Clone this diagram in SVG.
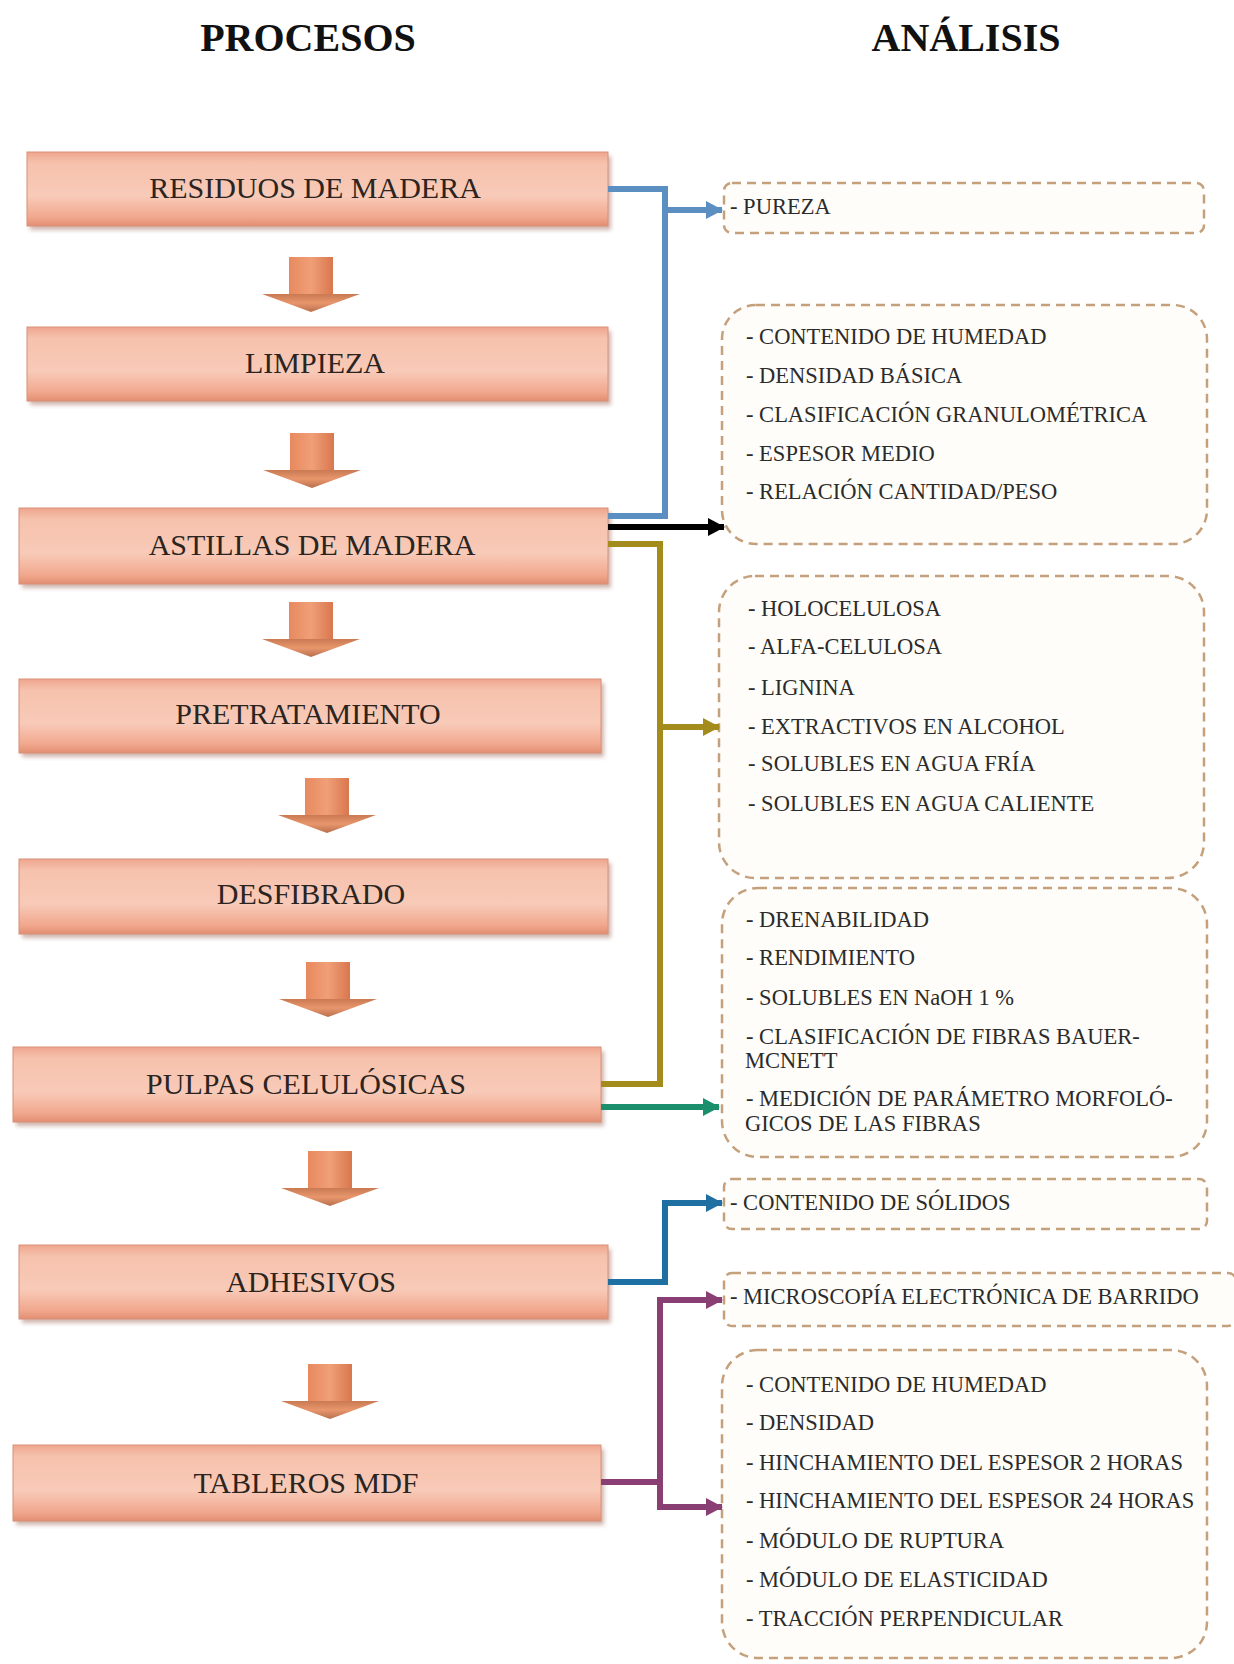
<svg xmlns="http://www.w3.org/2000/svg" width="1234" height="1664" viewBox="0 0 1234 1664">
<style>
.title{font-family:"Liberation Serif","Times New Roman",serif;font-weight:bold;font-size:40px;fill:#111;text-anchor:middle}
.ptxt{font-family:"Liberation Serif","Times New Roman",serif;font-size:30px;fill:#2b2420;text-anchor:middle}
.atxt{font-family:"Liberation Serif","Times New Roman",serif;font-size:22.5px;fill:#2b2b2b}
.pbox{fill:url(#boxg);stroke:#d8907a;stroke-width:1}
.shadow{fill:#a87a6c;opacity:0.55;filter:url(#blur)}
.abox{fill:#fffdf9;stroke:#c4a07c;stroke-width:2.5;stroke-dasharray:9 6}
.conn{fill:none;stroke-width:6;stroke-linejoin:miter}
.shaft{fill:url(#arrg)}
.head{fill:url(#headg)}
</style>
<defs>
<linearGradient id="boxg" x1="0" y1="0" x2="0" y2="1">
<stop offset="0" stop-color="#eea58d"/>
<stop offset="0.15" stop-color="#f6c2ad"/>
<stop offset="0.6" stop-color="#f8cab8"/>
<stop offset="0.88" stop-color="#f1a88e"/>
<stop offset="1" stop-color="#e28e72"/>
</linearGradient>
<linearGradient id="arrg" x1="0" y1="0" x2="1" y2="0">
<stop offset="0" stop-color="#e8895f"/>
<stop offset="0.5" stop-color="#f09f78"/>
<stop offset="1" stop-color="#d9774e"/>
</linearGradient>
<linearGradient id="headg" x1="0" y1="0" x2="0" y2="1">
<stop offset="0" stop-color="#c97a52"/>
<stop offset="0.5" stop-color="#e8966c"/>
<stop offset="1" stop-color="#b8704c"/>
</linearGradient>
<filter id="blur" x="-5%" y="-20%" width="110%" height="140%"><feGaussianBlur stdDeviation="2"/></filter>
<marker id="mBlue" markerUnits="userSpaceOnUse" markerWidth="20" markerHeight="20" refX="16" refY="9" orient="auto"><path d="M0,0 L17,9 L0,18 Z" fill="#5b8ec1"/></marker>
<marker id="mBlack" markerUnits="userSpaceOnUse" markerWidth="20" markerHeight="20" refX="16" refY="9" orient="auto"><path d="M0,0 L17,9 L0,18 Z" fill="#000"/></marker>
<marker id="mOlive" markerUnits="userSpaceOnUse" markerWidth="20" markerHeight="20" refX="16" refY="9" orient="auto"><path d="M0,0 L17,9 L0,18 Z" fill="#a38b1c"/></marker>
<marker id="mGreen" markerUnits="userSpaceOnUse" markerWidth="20" markerHeight="20" refX="16" refY="9" orient="auto"><path d="M0,0 L17,9 L0,18 Z" fill="#1b8f6c"/></marker>
<marker id="mTeal" markerUnits="userSpaceOnUse" markerWidth="20" markerHeight="20" refX="16" refY="9" orient="auto"><path d="M0,0 L17,9 L0,18 Z" fill="#1f70a2"/></marker>
<marker id="mPurple" markerUnits="userSpaceOnUse" markerWidth="20" markerHeight="20" refX="16" refY="9" orient="auto"><path d="M0,0 L17,9 L0,18 Z" fill="#8a3f74"/></marker>
<g id="dArrow"><path class="shaft" d="M-22,0 H22 V38 H-22 Z"/><path class="head" d="M-49,37 H49 L0,55 Z"/></g>
</defs>
<rect width="1234" height="1664" fill="#fff"/>

<text class="title" x="308" y="51">PROCESOS</text>
<text class="title" x="966" y="51">ANÁLISIS</text>

<!-- process nodes -->
<g id="p1"><rect class="shadow" x="30" y="156" width="581" height="74"/><rect class="pbox" x="27" y="152" width="581" height="74"/><text class="ptxt" x="315" y="198">RESIDUOS DE MADERA</text></g>
<g id="p2"><rect class="shadow" x="30" y="331" width="581" height="74"/><rect class="pbox" x="27" y="327" width="581" height="74"/><text class="ptxt" x="315" y="373">LIMPIEZA</text></g>
<g id="p3"><rect class="shadow" x="22" y="512" width="589" height="76"/><rect class="pbox" x="19" y="508" width="589" height="76"/><text class="ptxt" x="312" y="555">ASTILLAS DE MADERA</text></g>
<g id="p4"><rect class="shadow" x="22" y="683" width="582" height="74"/><rect class="pbox" x="19" y="679" width="582" height="74"/><text class="ptxt" x="308" y="724">PRETRATAMIENTO</text></g>
<g id="p5"><rect class="shadow" x="22" y="863" width="589" height="75"/><rect class="pbox" x="19" y="859" width="589" height="75"/><text class="ptxt" x="311" y="904">DESFIBRADO</text></g>
<g id="p6"><rect class="shadow" x="16" y="1051" width="588" height="75"/><rect class="pbox" x="13" y="1047" width="588" height="75"/><text class="ptxt" x="306" y="1094">PULPAS CELULÓSICAS</text></g>
<g id="p7"><rect class="shadow" x="22" y="1249" width="589" height="74"/><rect class="pbox" x="19" y="1245" width="589" height="74"/><text class="ptxt" x="311" y="1292">ADHESIVOS</text></g>
<g id="p8"><rect class="shadow" x="16" y="1449" width="588" height="76"/><rect class="pbox" x="13" y="1445" width="588" height="76"/><text class="ptxt" x="306" y="1493">TABLEROS MDF</text></g>

<!-- down block arrows -->
<g id="flow">
<use href="#dArrow" transform="translate(311,257)"/>
<use href="#dArrow" transform="translate(312,433)"/>
<use href="#dArrow" transform="translate(311,602)"/>
<use href="#dArrow" transform="translate(327,778)"/>
<use href="#dArrow" transform="translate(328,962)"/>
<use href="#dArrow" transform="translate(330,1151)"/>
<use href="#dArrow" transform="translate(330,1364)"/>
</g>

<!-- analysis nodes -->
<g id="a1"><rect class="abox" x="724" y="183" width="480" height="50" rx="8"/><text class="atxt" x="730" y="214">- PUREZA</text></g>
<g id="a2"><rect class="abox" x="722" y="305" width="485" height="239" rx="34"/>
<text class="atxt" x="746" y="344">- CONTENIDO DE HUMEDAD</text>
<text class="atxt" x="746" y="383">- DENSIDAD BÁSICA</text>
<text class="atxt" x="746" y="422">- CLASIFICACIÓN GRANULOMÉTRICA</text>
<text class="atxt" x="746" y="461">- ESPESOR MEDIO</text>
<text class="atxt" x="746" y="499">- RELACIÓN CANTIDAD/PESO</text></g>
<g id="a3"><rect class="abox" x="719" y="576" width="485" height="302" rx="36"/>
<text class="atxt" x="748" y="616">- HOLOCELULOSA</text>
<text class="atxt" x="748" y="654">- ALFA-CELULOSA</text>
<text class="atxt" x="748" y="695">- LIGNINA</text>
<text class="atxt" x="748" y="734">- EXTRACTIVOS EN ALCOHOL</text>
<text class="atxt" x="748" y="771">- SOLUBLES EN AGUA FRÍA</text>
<text class="atxt" x="748" y="811">- SOLUBLES EN AGUA CALIENTE</text></g>
<g id="a4"><rect class="abox" x="722" y="888" width="485" height="269" rx="36"/>
<text class="atxt" x="746" y="927">- DRENABILIDAD</text>
<text class="atxt" x="746" y="965">- RENDIMIENTO</text>
<text class="atxt" x="746" y="1005">- SOLUBLES EN NaOH 1 %</text>
<text class="atxt" x="746" y="1044">- CLASIFICACIÓN DE FIBRAS BAUER-</text>
<text class="atxt" x="745" y="1068">MCNETT</text>
<text class="atxt" x="746" y="1106">- MEDICIÓN DE PARÁMETRO MORFOLÓ-</text>
<text class="atxt" x="745" y="1131">GICOS DE LAS FIBRAS</text></g>
<g id="a5"><rect class="abox" x="724" y="1179" width="483" height="50" rx="8"/><text class="atxt" x="730" y="1210">- CONTENIDO DE SÓLIDOS</text></g>
<g id="a6"><rect class="abox" x="724" y="1273" width="512" height="53" rx="8"/><text class="atxt" x="730" y="1304">- MICROSCOPÍA ELECTRÓNICA DE BARRIDO</text></g>
<g id="a7"><rect class="abox" x="722" y="1350" width="485" height="308" rx="36"/>
<text class="atxt" x="746" y="1392">- CONTENIDO DE HUMEDAD</text>
<text class="atxt" x="746" y="1430">- DENSIDAD</text>
<text class="atxt" x="746" y="1470">- HINCHAMIENTO DEL ESPESOR 2 HORAS</text>
<text class="atxt" x="746" y="1508">- HINCHAMIENTO DEL ESPESOR 24 HORAS</text>
<text class="atxt" x="746" y="1548">- MÓDULO DE RUPTURA</text>
<text class="atxt" x="746" y="1587">- MÓDULO DE ELASTICIDAD</text>
<text class="atxt" x="746" y="1626">- TRACCIÓN PERPENDICULAR</text></g>

<!-- connectors -->
<g id="connectors">
<path class="conn" stroke="#5b8ec1" d="M608,189 H665 V516 H608"/>
<path class="conn" stroke="#5b8ec1" d="M665,210 H722" marker-end="url(#mBlue)"/>
<path class="conn" stroke="#000" d="M608,527 H724" marker-end="url(#mBlack)"/>
<path class="conn" stroke="#a38b1c" d="M608,544 H660 V1084 H601"/>
<path class="conn" stroke="#a38b1c" d="M660,727 H719" marker-end="url(#mOlive)"/>
<path class="conn" stroke="#1b8f6c" d="M601,1107 H719" marker-end="url(#mGreen)"/>
<path class="conn" stroke="#1f70a2" d="M608,1282 H665 V1203 H722" marker-end="url(#mTeal)"/>
<path class="conn" stroke="#8a3f74" d="M601,1482 H660"/>
<path class="conn" stroke="#8a3f74" d="M660,1507 V1300 H722" marker-end="url(#mPurple)"/>
<path class="conn" stroke="#8a3f74" d="M657,1507 H722" marker-end="url(#mPurple)"/>
</g>
</svg>
